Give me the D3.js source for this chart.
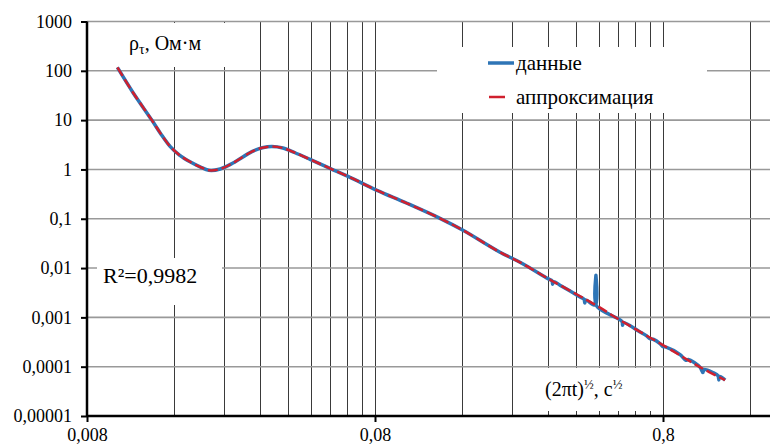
<!DOCTYPE html>
<html>
<head>
<meta charset="utf-8">
<script src="https://cdn.jsdelivr.net/npm/d3@7"></script>
<style>
  body { margin: 0; background: #fff; }
  svg, svg text { font-family: "Liberation Serif", "Times New Roman", Times, "DejaVu Serif", serif !important; }
</style>
</head>
<body>
<div id="chart"></div>
<script>
// approximation curve, (2πt)^½ vs ρτ
const approxX = [0.0102, 0.01155, 0.01345, 0.0144, 0.01554, 0.0168, 0.01823, 0.01975, 0.0212, 0.0232, 0.0257,
                 0.0299, 0.0325, 0.0351, 0.0383, 0.0422, 0.0476, 0.0558, 0.0655, 0.0813,
                 0.1033, 0.1345, 0.1617, 0.2173, 0.255, 0.3242, 0.351, 0.468, 0.5673,
                 0.8, 1.075, 1.314];
const approxY = [117, 36.4, 9.9, 5.38, 2.94, 1.93, 1.43, 1.13, 0.96, 1.02, 1.35,
                 2.3, 2.75, 2.92, 2.72, 2.18, 1.6, 1.05, 0.69, 0.377,
                 0.206, 0.102, 0.0584, 0.0209, 0.0131, 0.0058, 0.0045, 0.00177, 0.00088,
                 0.000274, 0.0000982, 0.0000535];

// measured data (same shape, noisy tail)
const dataX = [0.0102, 0.01155, 0.01345, 0.0144, 0.01554, 0.0168, 0.01823, 0.01975, 0.0212, 0.0232, 0.0257,
               0.0299, 0.0325, 0.0351, 0.0383, 0.0422, 0.0476, 0.0558, 0.0655, 0.0813,
               0.1033, 0.1345, 0.1617, 0.2173, 0.255, 0.3189, 0.3294, 0.331, 0.334,
               0.351, 0.412, 0.4255, 0.428, 0.431, 0.466, 0.468, 0.470, 0.52,
               0.5763, 0.579, 0.582, 0.6656, 0.70, 0.72, 0.74, 0.781, 0.80, 0.82,
               0.917, 0.96, 0.98, 1.075, 1.101, 1.11, 1.2, 1.242, 1.25, 1.26, 1.314];
const dataY = [117, 36.4, 9.9, 5.38, 2.94, 1.93, 1.43, 1.13, 0.96, 1.02, 1.35,
               2.3, 2.75, 2.92, 2.72, 2.18, 1.6, 1.05, 0.69, 0.377,
               0.206, 0.102, 0.0584, 0.0209, 0.0131, 0.00611, 0.00552, 0.0047, 0.0053,
               0.0045, 0.0026, 0.00234, 0.00195, 0.00225, 0.00178, 0.00716, 0.00172, 0.00116,
               0.000826, 0.00069, 0.00079, 0.000507, 0.000427, 0.00037, 0.00036, 0.000295, 0.000255, 0.00025,
               0.000176, 0.000135, 0.00014, 0.0000982, 0.0000760, 0.000088, 0.0000748, 0.0000658, 0.0000540, 0.000063, 0.0000535];

const yTicks = [1000, 100, 10, 1, 0.1, 0.01, 0.001, 0.0001, 0.00001];
const yTickLabels = ["1000", "100", "10", "1", "0,1", "0,01", "0,001", "0,0001", "0,00001"];
const xTicks = [0.008, 0.08, 0.8];
const xTickLabels = ["0,008", "0,08", "0,8"];
const seriesNames = ["данные", "аппроксимация"];

const width = 770, height = 446;
const margin = {top: 21.5, right: 0, bottom: 30, left: 87};
const plotBottom = height - margin.bottom; // 416
const serif = '"Liberation Serif", "Times New Roman", Times, "DejaVu Serif", serif';

const svg = d3.select("#chart").append("svg")
    .attr("width", width)
    .attr("height", height)
    .attr("font-family", serif);

const x = d3.scaleLog()
    .domain([0.008, 1.882])
    .range([margin.left, width - margin.right]);
const y = d3.scaleLog()
    .domain([0.00001, 1000])
    .range([plotBottom, margin.top]);

// minor x values (1..9 per decade)
const xMinor = [];
xTicks.forEach(d => { for (let k = 1; k <= 9; k++) if (d * k <= x.domain()[1]) xMinor.push(d * k); });

// vertical grid
svg.append("g").selectAll("line").data(xMinor.filter(v => v > 0.0081)).join("line")
    .attr("x1", d => Math.round(x(d)) + 0.5).attr("x2", d => Math.round(x(d)) + 0.5)
    .attr("y1", margin.top).attr("y2", plotBottom)
    .attr("stroke", "#3a3a3a").attr("stroke-width", 1);

// horizontal grid
svg.append("g").selectAll("line").data(yTicks.filter(v => v > 0.00001)).join("line")
    .attr("x1", margin.left).attr("x2", width)
    .attr("y1", d => y(d)).attr("y2", d => y(d))
    .attr("stroke", "#999").attr("stroke-width", 1.6);

// white label boxes that break the grid
const boxes = [
  [88, 23, 162, 44],   // y label
  [437, 47, 270, 66],  // legend
  [97, 258, 125, 47],  // R²
  [520, 368, 135, 44]  // x label
];
svg.append("g").selectAll("rect").data(boxes).join("rect")
    .attr("x", d => d[0]).attr("y", d => d[1]).attr("width", d => d[2]).attr("height", d => d[3])
    .attr("fill", "#fff");

// inner minor ticks on x axis
svg.append("g").selectAll("line").data(xMinor).join("line")
    .attr("x1", d => Math.round(x(d)) + 0.5).attr("x2", d => Math.round(x(d)) + 0.5)
    .attr("y1", plotBottom - 5).attr("y2", plotBottom)
    .attr("stroke", "#3a3a3a").attr("stroke-width", 1);

// axes
const yAxis = svg.append("g")
    .attr("transform", `translate(${margin.left},0)`)
    .call(d3.axisLeft(y).tickValues(yTicks).tickFormat((d, i) => yTickLabels[i]).tickSize(6).tickPadding(9));
const xAxis = svg.append("g")
    .attr("transform", `translate(0,${plotBottom})`)
    .call(d3.axisBottom(x).tickValues(xTicks).tickFormat((d, i) => xTickLabels[i]).tickSize(6).tickPadding(6));
[xAxis, yAxis].forEach(a => {
  a.attr("font-family", serif).attr("font-size", 18);
  a.select(".domain").attr("stroke", "#000").attr("stroke-width", 2.5);
  a.selectAll(".tick line").attr("stroke", "#000").attr("stroke-width", 2);
  a.selectAll("text").attr("fill", "#000");
});
xAxis.select(".domain").attr("d", `M${margin.left},0H${width}`);
yAxis.select(".domain").attr("d", `M0,${margin.top}V${plotBottom}`);

// lines
const line = d3.line().x(d => x(d[0])).y(d => y(d[1])).curve(d3.curveCatmullRom.alpha(0.5));
svg.append("path")
    .datum(dataX.map((v, i) => [v, dataY[i]]))
    .attr("fill", "none").attr("stroke", "#2e75b6").attr("stroke-width", 3.5)
    .attr("stroke-linejoin", "round")
    .attr("d", line);
svg.append("path")
    .datum(approxX.map((v, i) => [v, approxY[i]]))
    .attr("fill", "none").attr("stroke", "#d0202e").attr("stroke-width", 2.5)
    .attr("stroke-dasharray", "10,4")
    .attr("d", line);

// legend
const legend = svg.append("g").attr("font-size", 21);
legend.append("line").attr("x1", 488).attr("x2", 514).attr("y1", 63).attr("y2", 63)
    .attr("stroke", "#2e75b6").attr("stroke-width", 3.5);
legend.append("line").attr("x1", 489).attr("x2", 505).attr("y1", 97).attr("y2", 97)
    .attr("stroke", "#d0202e").attr("stroke-width", 2.5);
legend.append("text").attr("x", 516).attr("y", 70).text(seriesNames[0]);
legend.append("text").attr("x", 516).attr("y", 104).text(seriesNames[1]);

// y label ρτ, Ом·м
const yl = svg.append("text").attr("x", 129).attr("y", 50).attr("font-size", 20);
yl.append("tspan").text("ρ");
yl.append("tspan").attr("font-size", 14).attr("dy", 4).text("τ");
yl.append("tspan").attr("dy", -4).text(", Ом·м");

// R²
svg.append("text").attr("x", 103).attr("y", 283).attr("font-size", 22).text("R²=0,9982");

// x label (2πt)½, с½
const xl = svg.append("text").attr("x", 545).attr("y", 396).attr("font-size", 20);
xl.append("tspan").text("(2πt)");
xl.append("tspan").attr("font-size", 13).attr("dy", -7).text("½");
xl.append("tspan").attr("dy", 7).text(", с");
xl.append("tspan").attr("font-size", 13).attr("dy", -7).text("½");
</script>
</body>
</html>
